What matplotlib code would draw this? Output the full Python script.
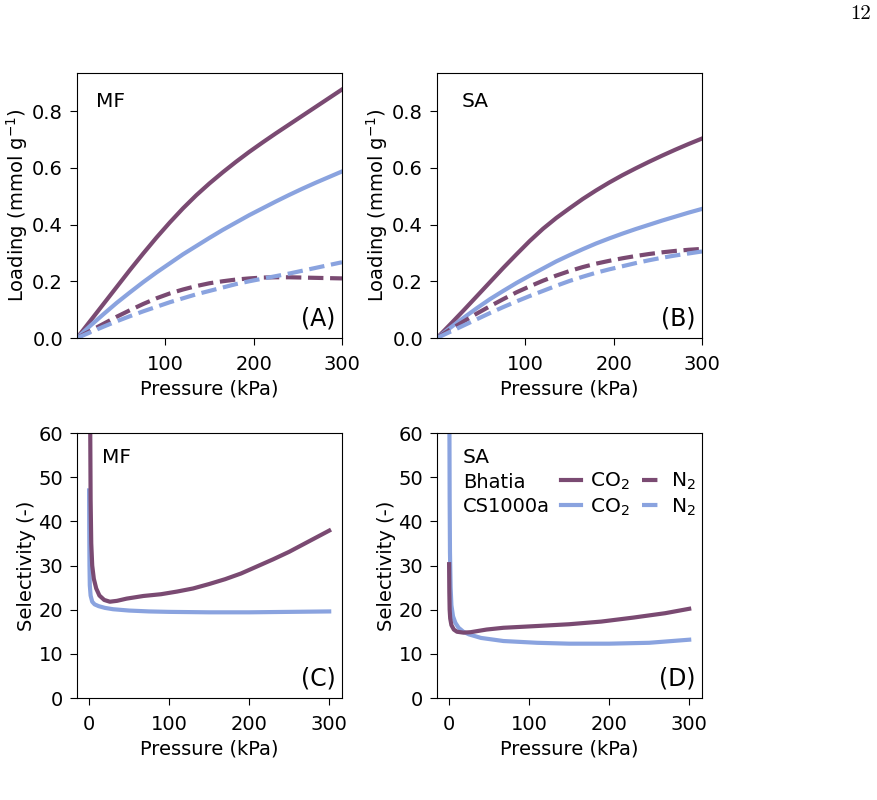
import matplotlib
matplotlib.use("Agg")
import matplotlib.pyplot as plt
from matplotlib.lines import Line2D

PURPLE = "#7a4a72"
BLUE = "#8aa3df"

# ---- Loading data (panels A, B) ----
p_load = [0, 15, 30, 45, 60, 75, 90, 105, 120, 135, 150, 165, 180, 195, 210, 225, 240, 255, 270, 285, 300]

mf_bhatia_co2 = [0, 0.06, 0.12, 0.18, 0.24, 0.298, 0.354, 0.407, 0.457, 0.503, 0.545, 0.584, 0.621, 0.656,
                 0.689, 0.721, 0.752, 0.783, 0.814, 0.845, 0.876]
mf_cs_co2 = [0, 0.043, 0.084, 0.124, 0.161, 0.197, 0.231, 0.263, 0.295, 0.324, 0.353, 0.381, 0.407, 0.433,
             0.457, 0.481, 0.504, 0.526, 0.547, 0.567, 0.587]
mf_bhatia_n2 = [0, 0.025, 0.05, 0.075, 0.098, 0.12, 0.14, 0.157, 0.171, 0.183, 0.193, 0.20, 0.206, 0.21,
                0.213, 0.214, 0.214, 0.213, 0.212, 0.211, 0.21]
mf_cs_n2 = [0, 0.02, 0.04, 0.059, 0.077, 0.094, 0.11, 0.126, 0.14, 0.154, 0.166, 0.178, 0.19, 0.20,
            0.209, 0.218, 0.227, 0.237, 0.247, 0.257, 0.267]

sa_bhatia_co2 = [0, 0.048, 0.097, 0.147, 0.197, 0.247, 0.295, 0.342, 0.385, 0.423, 0.457, 0.49, 0.52, 0.548,
                 0.574, 0.598, 0.621, 0.643, 0.664, 0.684, 0.703]
sa_cs_co2 = [0, 0.036, 0.071, 0.105, 0.137, 0.166, 0.194, 0.22, 0.245, 0.27, 0.292, 0.313, 0.333, 0.351,
             0.368, 0.384, 0.399, 0.414, 0.428, 0.442, 0.455]
sa_bhatia_n2 = [0, 0.03, 0.058, 0.086, 0.112, 0.137, 0.161, 0.182, 0.202, 0.22, 0.236, 0.25, 0.262, 0.272,
                0.281, 0.289, 0.296, 0.302, 0.307, 0.311, 0.314]
sa_cs_n2 = [0, 0.022, 0.044, 0.066, 0.088, 0.109, 0.129, 0.148, 0.166, 0.184, 0.201, 0.216, 0.23, 0.242,
            0.253, 0.264, 0.274, 0.283, 0.291, 0.298, 0.305]

# ---- Selectivity data (panels C, D) ----
p_mf_bhatia = [1.5, 2, 2.8, 4, 6, 9, 13, 19, 26, 35, 47, 68, 90, 110, 130, 150, 170, 190, 210, 230, 250, 275, 300]
sel_mf_bhatia = [62, 45, 35, 30, 27, 24.8, 23.2, 22.2, 21.8, 22.0, 22.5, 23.1, 23.5, 24.1, 24.8, 25.8,
                 26.9, 28.2, 29.8, 31.4, 33.1, 35.5, 37.9]
p_mf_cs = [0.1, 0.3, 0.6, 1, 2, 4, 7, 12, 20, 30, 50, 75, 100, 150, 200, 250, 300]
sel_mf_cs = [47, 38, 30, 25.5, 23.2, 21.8, 21.2, 20.8, 20.4, 20.1, 19.8, 19.6, 19.5, 19.4, 19.4, 19.5, 19.6]

p_sa_bhatia = [0.1, 0.4, 0.8, 1.5, 3, 6, 10, 18, 27, 47, 68, 110, 150, 190, 230, 270, 300]
sel_sa_bhatia = [30.3, 24, 20, 18, 16.5, 15.5, 15.0, 14.8, 14.9, 15.5, 15.9, 16.3, 16.7, 17.3, 18.2, 19.2, 20.2]
p_sa_cs = [0.5, 0.8, 1.2, 2, 3, 5, 8, 12, 18, 25, 40, 68, 110, 150, 200, 250, 300]
sel_sa_cs = [62, 45, 33, 25, 21, 18.5, 17, 15.9, 15, 14.4, 13.6, 12.9, 12.5, 12.3, 12.3, 12.5, 13.2]

FS = 14
TXT = 14.5
LEG = 14
plt.rcParams['font.size'] = FS
plt.rcParams['xtick.major.size'] = 5
plt.rcParams['ytick.major.size'] = 5
plt.rcParams['xtick.major.pad'] = 7
plt.rcParams['ytick.major.pad'] = 5
LW = 3

fig = plt.figure(figsize=(8.77, 8.0), dpi=100)
w, h = 265 / 877, 265 / 800
axA = fig.add_axes([77 / 877, 1 - 338 / 800, w, h])
axB = fig.add_axes([437 / 877, 1 - 338 / 800, w, h])
axC = fig.add_axes([77 / 877, 1 - 698 / 800, w, h])
axD = fig.add_axes([437 / 877, 1 - 698 / 800, w, h])

for ax, data, name, nx, lab in [(axA, (mf_bhatia_co2, mf_cs_co2, mf_bhatia_n2, mf_cs_n2), "MF", 0.07, "(A)"),
                                (axB, (sa_bhatia_co2, sa_cs_co2, sa_bhatia_n2, sa_cs_n2), "SA", 0.094, "(B)")]:
    bc, cc, bn, cn = data
    ax.plot(p_load, bc, color=PURPLE, lw=LW)
    ax.plot(p_load, cc, color=BLUE, lw=LW)
    ax.plot(p_load, bn, color=PURPLE, lw=LW, ls='--')
    ax.plot(p_load, cn, color=BLUE, lw=LW, ls='--')
    ax.set_xlim(0, 300)
    ax.set_ylim(0, 0.934)
    ax.set_xticks([100, 200, 300])
    ax.set_yticks([0, 0.2, 0.4, 0.6, 0.8])
    ax.set_xlabel("Pressure (kPa)")
    ax.set_ylabel("Loading (mmol g$^{-1}$)", labelpad=1.5)
    ax.text(nx, 0.93, name, transform=ax.transAxes, ha='left', va='top', fontsize=TXT)
    ax.text(0.975, 0.03, lab, transform=ax.transAxes, ha='right', va='bottom', fontsize=17)

for ax, pb, sb, pc, sc, name, lab in [(axC, p_mf_bhatia, sel_mf_bhatia, p_mf_cs, sel_mf_cs, "MF", "(C)"),
                                      (axD, p_sa_bhatia, sel_sa_bhatia, p_sa_cs, sel_sa_cs, "SA", "(D)")]:
    ax.plot(pc, sc, color=BLUE, lw=LW)
    ax.plot(pb, sb, color=PURPLE, lw=LW)
    ax.set_xlim(-15, 316)
    ax.set_ylim(0, 60)
    ax.set_xticks([0, 100, 200, 300])
    ax.set_yticks([0, 10, 20, 30, 40, 50, 60])
    ax.set_xlabel("Pressure (kPa)")
    ax.set_ylabel("Selectivity (-)", labelpad=1.5)
    ax.text(0.095, 0.945, name, transform=ax.transAxes, ha='left', va='top', fontsize=TXT)
    ax.text(0.975, 0.03, lab, transform=ax.transAxes, ha='right', va='bottom', fontsize=17)

# legend in panel D
axD.text(0.098, 0.812, "Bhatia", transform=axD.transAxes, ha='left', va='center', fontsize=LEG)
axD.text(0.098, 0.722, "CS1000a", transform=axD.transAxes, ha='left', va='center', fontsize=LEG)
handles = [Line2D([], [], color=PURPLE, lw=LW), Line2D([], [], color=BLUE, lw=LW),
           Line2D([], [], color=PURPLE, lw=LW, ls='--'), Line2D([], [], color=BLUE, lw=LW, ls='--')]
labels = ["CO$_2$", "CO$_2$", "N$_2$", "N$_2$"]
axD.legend(handles, labels, ncol=2, frameon=False, loc='upper left', bbox_to_anchor=(0.468, 0.857),
           handlelength=1.0, handletextpad=0.45, columnspacing=0.6, labelspacing=0.2, fontsize=TXT,
           borderaxespad=0, borderpad=0)

fig.text(871 / 877, 1 - 19 / 800, "12", family='cmr10', fontsize=15, ha='right', va='baseline')

fig.savefig("out.png", dpi=100)
